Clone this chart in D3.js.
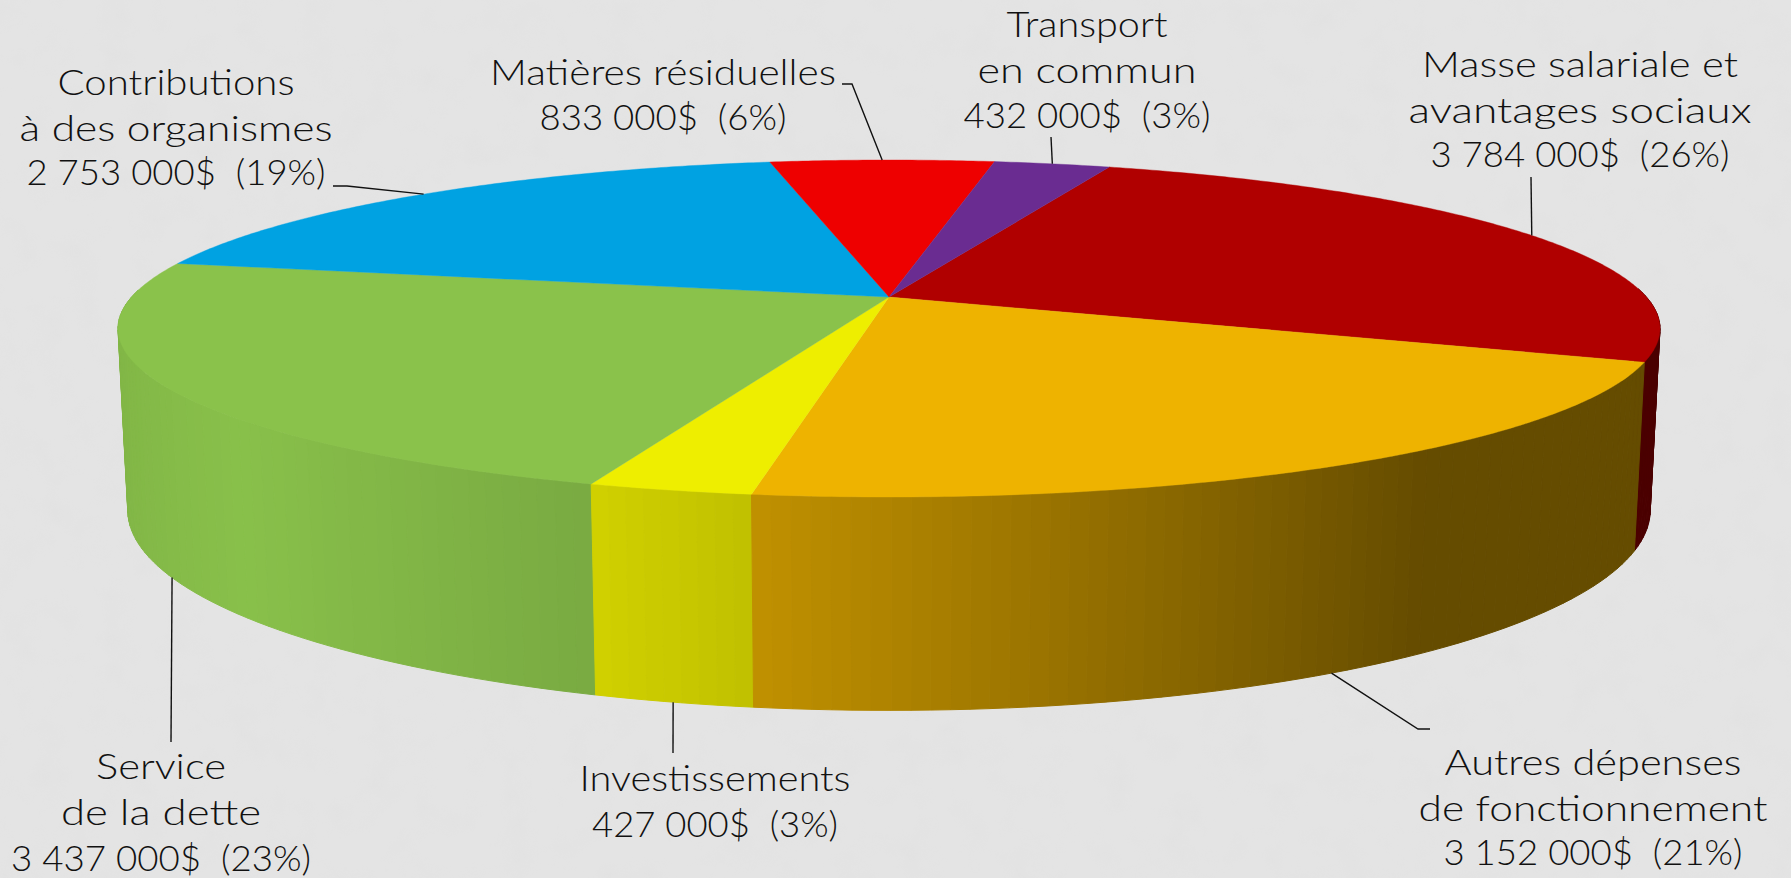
<!DOCTYPE html>
<html>
<head>
<meta charset="utf-8">
<script src="https://cdn.jsdelivr.net/npm/d3@7"></script>
<style>
  html, body { margin: 0; padding: 0; background: #e1e1e1; overflow: hidden; }
  svg { display: block; }
  text { font-family: Lato, "Open Sans", sans-serif; font-weight: 300; font-size: 36px; fill: #111; white-space: pre; }
</style>
</head>
<body>
<svg id="chart" width="1791" height="878"></svg>
<script>
"use strict";

/* values */
const categories = ["Masse salariale", "Autres dépenses", "Investissements", "Service de la dette", "Contributions", "Matières résiduelles", "Transport en commun"];
const amounts = [3784000, 3152000, 427000, 3437000, 2753000, 833000, 432000];
const sliceColours = ["#b00000", "#eeb300", "#eeee00", "#8ac24b", "#00a2e2", "#ee0000", "#6a2c91"];
const labelLines = [
  ["Masse salariale et", "avantages sociaux", "3 784 000$  (26%)"],
  ["Autres dépenses", "de fonctionnement", "3 152 000$  (21%)"],
  ["Investissements", "427 000$  (3%)"],
  ["Service", "de la dette", "3 437 000$  (23%)"],
  ["Contributions", "à des organismes", "2 753 000$  (19%)"],
  ["Matières résiduelles", "833 000$  (6%)"],
  ["Transport", "en commun", "432 000$  (3%)"]
];

/* label placement, same order as categories */
const labelLayout = [
  { x: 1580, ys: [77, 123, 167], widths: [316, 343, 299], leader: [[1531, 177]] },
  { x: 1593, ys: [775, 821, 865], widths: [297, 349, 299], leader: [[1430, 729], [1418, 729]] },
  { x: 715, ys: [791, 837], widths: [271, 246], leader: [[673, 753]] },
  { x: 161, ys: [779, 825, 871], widths: [130, 200, 300], leader: [[171, 742]] },
  { x: 176, ys: [95, 141, 185], widths: [237, 313, 299], leader: [[333, 186], [347, 186]] },
  { x: 663, ys: [85, 130], widths: [346, 247], leader: [[842, 84], [852, 84]] },
  { x: 1087, ys: [37, 83, 128], widths: [161, 219, 247], leader: [[1051, 137]] }
];

/* side shading against the sideways position on the disc */
const shadeStops = [-1, -0.97, -0.75, -0.33, -0.13, 0.6, 1];
const shadeValues = [0.93, 0.94, 0.99, 0.88, 0.80, 0.425, 0.425];

/* the perspective of the disc */
const view = {
  cx: 889, cy: 297,
  a: 757.4, b: 162.6,
  k: 0.187,
  depth: 178.6, depthW: 0.0124
};

/* theta is clockwise from the back of the disc, level 0 is top face, 1 is bottom face */
function project(theta, level, r = 1) {
  let x = r * Math.sin(theta);
  let y = -r * Math.cos(theta);
  let w = 1 - view.k * y + view.depthW * level;
  return [
    view.cx + view.a * x / w,
    view.cy + (view.b * y + view.depth * level) / w
  ];
}

const svg = d3.select('#chart');

/* mottled backdrop */
const defs = svg.append('defs');
const mottle = defs.append('filter').attr('id', 'mottle')
  .attr('x', 0).attr('y', 0).attr('width', '100%').attr('height', '100%');
mottle.append('feTurbulence')
  .attr('type', 'fractalNoise')
  .attr('baseFrequency', 0.03)
  .attr('numOctaves', 3)
  .attr('seed', 4);
mottle.append('feColorMatrix')
  .attr('type', 'matrix')
  .attr('values', '0 0 0 0 0.72  0 0 0 0 0.72  0 0 0 0 0.72  2.2 0 0 0 -0.95');

svg.append('rect').attr('width', 1791).attr('height', 878).attr('fill', '#e4e4e4');
svg.append('rect').attr('width', 1791).attr('height', 878).attr('filter', 'url(#mottle)').attr('opacity', 0.22);

const pie = d3.pie().sort(null)
  .startAngle(20 * Math.PI / 180)
  .endAngle((360 + 20) * Math.PI / 180);
const arcs = pie(amounts);

const shade = d3.scaleLinear().domain(shadeStops).range(shadeValues);
const line = d3.line();

/* side wall, cut into thin strips so the shading shows bands like the original */
const stripStep = 1.25 * Math.PI / 180;
let strips = [];
arcs.forEach((d, i) => {
  let n = Math.ceil((d.endAngle - d.startAngle) / stripStep);
  for (let j = 0; j < n; j++) {
    let t0 = d.startAngle + (d.endAngle - d.startAngle) * j / n;
    let t1 = d.startAngle + (d.endAngle - d.startAngle) * (j + 1) / n;
    let mid = (t0 + t1) / 2;
    if (-Math.cos(mid) < -0.05) continue;
    strips.push({ t0, t1, mid, i });
  }
});
strips.sort((p, q) => -Math.cos(p.mid) - -Math.cos(q.mid));

const wallColour = (s) => {
  let c = d3.rgb(sliceColours[s.i]);
  let f = shade(Math.sin(s.mid));
  return d3.rgb(c.r * f, c.g * f, c.b * f).formatHex();
};

svg.append('g').selectAll('path')
  .data(strips)
  .enter()
  .append('path')
  .attr('d', s => line([project(s.t0, 0), project(s.t1, 0), project(s.t1, 1), project(s.t0, 1)]) + 'Z')
  .attr('fill', wallColour)
  .attr('stroke', wallColour)
  .attr('stroke-width', 1);

/* top face */
svg.append('g').selectAll('path')
  .data(arcs)
  .enter()
  .append('path')
  .attr('d', d => {
    let n = Math.ceil((d.endAngle - d.startAngle) / (0.5 * Math.PI / 180));
    let pts = [[view.cx, view.cy]];
    for (let j = 0; j <= n; j++) {
      pts.push(project(d.startAngle + (d.endAngle - d.startAngle) * j / n, 0));
    }
    return line(pts) + 'Z';
  })
  .attr('fill', (d, i) => sliceColours[i])
  .attr('stroke', (d, i) => sliceColours[i])
  .attr('stroke-width', 0.4);

/* leader lines start at the middle of each slice's rim */
svg.append('g').selectAll('path')
  .data(arcs)
  .enter()
  .append('path')
  .attr('d', (d, i) => {
    let mid = (d.startAngle + d.endAngle) / 2;
    let level = -Math.cos(mid) > 0 ? 1 : 0;
    return line([project(mid, level)].concat(labelLayout[i].leader.slice().reverse()));
  })
  .attr('fill', 'none')
  .attr('stroke', '#111')
  .attr('stroke-width', 1.4);

/* labels */
const labels = svg.append('g').selectAll('g')
  .data(categories)
  .enter()
  .append('g')
  .attr('class', 'label');

labels.each(function(name, i) {
  let pos = labelLayout[i];
  d3.select(this).selectAll('text')
    .data(labelLines[i])
    .enter()
    .append('text')
    .attr('text-anchor', 'middle')
    .attr('x', pos.x)
    .attr('y', (t, j) => pos.ys[j])
    .attr('textLength', (t, j) => pos.widths[j])
    .attr('lengthAdjust', 'spacingAndGlyphs')
    .text(t => t);
});
</script>
</body>
</html>
